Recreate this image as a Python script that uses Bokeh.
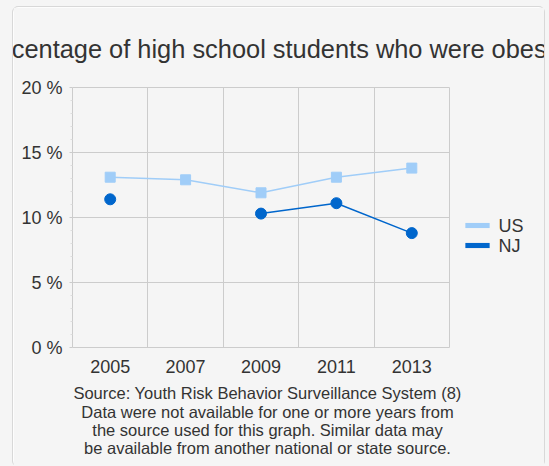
import numpy as np
from bokeh.plotting import figure
from bokeh.models import FactorRange, Range1d, FixedTicker, Label
from bokeh.embed import file_html
from bokeh.resources import INLINE

# ---- data ----
YEARS = ["2005", "2007", "2009", "2011", "2013"]
US = [13.1, 12.9, 11.9, 13.1, 13.8]
NJ = [11.4, float("nan"), 10.3, 11.1, 8.8]
SERIES = ["US", "NJ"]
Y_TICKS = [0, 5, 10, 15, 20]
Y_TICK_LABELS = ["0 %", "5 %", "10 %", "15 %", "20 %"]
TITLE = "Percentage of high school students who were obese"
SOURCE_LINES = [
    "Source: Youth Risk Behavior Surveillance System (8)",
    "Data were not available for one or more years from",
    "the source used for this graph. Similar data may",
    "be available from another national or state source.",
]

# ---- style ----
FONT = "Liberation Sans"
TXT = "#333333"
BG = "#f5f5f5"
GRID = "#cccccc"
EDGE = "#d8d8d8"
C_US = "#a0cdf8"
C_NJ = "#0066cc"
COLORS = [C_US, C_NJ]

OX, OY = 13, 7           # canvas (panel) position in the window
W, H = 531, 459          # canvas (panel) size
FL, FR, FT, FB = 59, 436, 80, 340   # frame edges inside the canvas
YMAX = Y_TICKS[-1]


def dx(wx):
    """window x pixel -> synthetic x coordinate"""
    return (wx - OX - FL) / (FR - FL) * len(YEARS)


def dy(wy):
    """window y pixel -> data y coordinate"""
    return (FB - (wy - OY)) / (FB - FT) * YMAX


p = figure(frame_width=FR - FL, frame_height=FB - FT,
           x_range=FactorRange(factors=YEARS, range_padding=0),
           y_range=Range1d(0, YMAX), output_backend="svg", toolbar_location=None,
           min_border_left=FL, min_border_right=W - FR, min_border_top=FT,
           min_border_bottom=H - FB,
           styles={"position": "relative", "left": f"{OX}px", "top": f"{OY}px",
                   "border-radius": "5px",
                   "box-shadow": f"-1px 0 0 0 {EDGE}, 1px 0 0 0 {EDGE}, "
                                 f"0 -1px 0 0 {EDGE}, 0 0 0 40px {BG}"})
p.border_fill_color = BG
p.background_fill_color = BG
p.outline_line_color = GRID
p.outline_line_width = 1

# grids
p.xgrid.ticker = FixedTicker(ticks=list(range(1, len(YEARS))))
p.ygrid.ticker = FixedTicker(ticks=Y_TICKS[1:-1])
for g in (p.xgrid, p.ygrid):
    g.grid_line_color = GRID
    g.grid_line_width = 1

# axes
xa = p.xaxis[0]
xa.axis_line_color = None
xa.major_tick_line_color = None
xa.minor_tick_line_color = None
xa.major_label_standoff = 6
xa.major_label_text_font = FONT
xa.major_label_text_font_size = "18px"
xa.major_label_text_color = TXT

ya = p.yaxis[0]
ya.ticker = FixedTicker(ticks=Y_TICKS, minor_ticks=[v for v in range(0, YMAX + 1) if v % 5])
ya.major_label_overrides = dict(zip(Y_TICKS, Y_TICK_LABELS))
ya.axis_line_color = None
ya.major_tick_line_color = GRID
ya.major_tick_out = 3
ya.major_tick_in = 0
ya.minor_tick_line_color = "#dddddd"
ya.minor_tick_out = 2
ya.minor_tick_in = 0
ya.major_label_standoff = 7
ya.major_label_text_font = FONT
ya.major_label_text_font_size = "18px"
ya.major_label_text_color = TXT

# series
us_y = np.array(US, dtype=float)
nj_y = np.array(NJ, dtype=float)
p.line(YEARS, us_y, line_color=C_US, line_width=1.5)
p.scatter(YEARS, us_y, marker="square", size=10, fill_color=C_US, line_color=C_US)
p.line(YEARS, nj_y, line_color=C_NJ, line_width=1.5)
p.scatter(YEARS, nj_y, marker="circle", size=11, fill_color=C_NJ, line_color=C_NJ)

# legend, drawn in the right panel: swatch + label per series
for i, (name, col) in enumerate(zip(SERIES, COLORS)):
    cy = 225 + 20 * i
    p.add_layout(Label(x=dx(477), y=dy(cy), text=" ", text_align="center",
                       text_baseline="middle", text_font=FONT, text_font_size="1px",
                       padding=(12, 2), background_fill_color=col,
                       background_fill_alpha=1), "right")
    p.add_layout(Label(x=dx(498), y=dy(cy), text=name, text_align="left",
                       text_baseline="middle", text_font=FONT,
                       text_font_size="18px", text_color=TXT), "right")

# title (label in the top panel; it overflows the panel like the reference)
p.add_layout(Label(x=dx(266), y=dy(48), text=TITLE, text_align="center",
                   text_baseline="alphabetic", text_font=FONT,
                   text_font_size="25.4px", text_color=TXT), "above")

# source lines
for i, line in enumerate(SOURCE_LINES):
    p.add_layout(Label(x=dx(267), y=dy(392.7 + 18.3 * i), text=line,
                       text_align="center", text_baseline="alphabetic",
                       text_font=FONT, text_font_size="16.5px", text_color=TXT),
                 "below")

open("out.html", "w").write(file_html(p, INLINE))
